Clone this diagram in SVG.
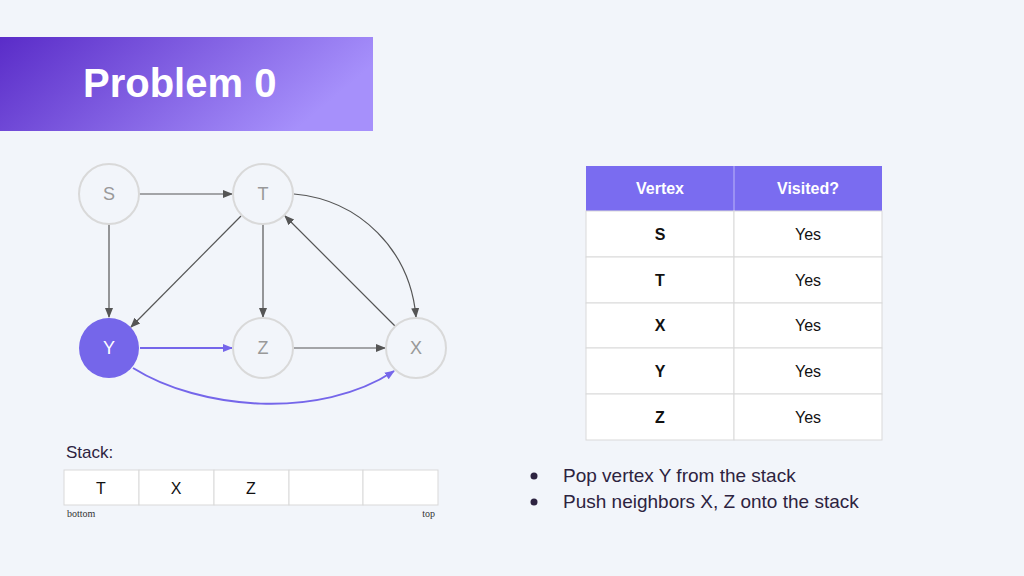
<svg xmlns="http://www.w3.org/2000/svg" width="1024" height="576" viewBox="0 0 1024 576">
<defs>
<linearGradient id="g" x1="0" y1="0" x2="1" y2="0.3"><stop offset="0" stop-color="#5a2cc8"/><stop offset="1" stop-color="#a690fb"/></linearGradient>
<marker id="a" markerWidth="10" markerHeight="10" refX="9" refY="5" orient="auto" markerUnits="userSpaceOnUse"><path d="M0,1 L10,5 L0,9 z" fill="#555"/></marker>
<marker id="p" markerWidth="10" markerHeight="10" refX="9" refY="5" orient="auto" markerUnits="userSpaceOnUse"><path d="M0,1 L10,5 L0,9 z" fill="#7566ea"/></marker>
<style>
.n{fill:#f2f5fa;stroke:#d9d9d9;stroke-width:2}
.nl{font-family:"Liberation Sans",Arial,sans-serif;font-size:18px;fill:#999;text-anchor:middle}
.e{fill:none;stroke:#555;stroke-width:1.2;marker-end:url(#a)}
.ep{fill:none;stroke:#7566ea;stroke-width:2;marker-end:url(#p)}
.t{font-family:"Liberation Sans",Arial,sans-serif;font-size:16px;fill:#111;text-anchor:middle}
.c{fill:#fff;stroke:#d9d9d9;stroke-width:1}
</style>
</defs>
<rect width="1024" height="576" fill="#f2f5fa"/>
<rect x="0" y="37" width="373" height="94" fill="url(#g)"/>
<text x="83" y="97" font-family="Liberation Sans,Arial,sans-serif" font-size="40" font-weight="bold" fill="#fff">Problem 0</text>
<g id="connectors">
<path class="e" d="M139,194 L232,194"/>
<path class="e" d="M109,224 L109,317"/>
<path class="e" d="M241,216 L131,327"/>
<path class="e" d="M263,224 L263,317"/>
<path class="e" d="M294,348 L385,348"/>
<path class="e" d="M395,326 L285,216"/>
<path class="e" d="M294,194 C360,200 410,250 416,317"/>
<path class="ep" d="M140,348 L232,348"/>
<path class="ep" d="M133,368 C200,410 320,420 394,371"/>
</g>
<g id="S"><circle class="n" cx="109" cy="194" r="30"/><text class="nl" x="109" y="200">S</text></g>
<g id="T"><circle class="n" cx="263" cy="194" r="30"/><text class="nl" x="263" y="200">T</text></g>
<g id="Y"><circle cx="109" cy="348" r="30" fill="#7566ea"/><text class="nl" x="109" y="354" style="fill:#fff">Y</text></g>
<g id="Z"><circle class="n" cx="263" cy="348" r="30"/><text class="nl" x="263" y="354">Z</text></g>
<g id="X"><circle class="n" cx="416" cy="348" r="30"/><text class="nl" x="416" y="354">X</text></g>
<g id="table">
<rect x="586" y="166" width="296" height="45" fill="#7a6cf0"/>
<line x1="734" y1="166" x2="734" y2="211" stroke="#fff" stroke-opacity="0.5"/>
<text x="660" y="194" font-family="Liberation Sans,Arial,sans-serif" font-size="16" font-weight="bold" fill="#fff" text-anchor="middle">Vertex</text>
<text x="808" y="194" font-family="Liberation Sans,Arial,sans-serif" font-size="16" font-weight="bold" fill="#fff" text-anchor="middle">Visited?</text>
<rect class="c" x="586" y="211" width="148" height="46"/><rect class="c" x="734" y="211" width="148" height="46"/>
<rect class="c" x="586" y="257" width="148" height="46"/><rect class="c" x="734" y="257" width="148" height="46"/>
<rect class="c" x="586" y="303" width="148" height="45"/><rect class="c" x="734" y="303" width="148" height="45"/>
<rect class="c" x="586" y="348" width="148" height="46"/><rect class="c" x="734" y="348" width="148" height="46"/>
<rect class="c" x="586" y="394" width="148" height="46"/><rect class="c" x="734" y="394" width="148" height="46"/>
<g font-weight="bold"><text class="t" x="660" y="240">S</text><text class="t" x="660" y="286">T</text><text class="t" x="660" y="331">X</text><text class="t" x="660" y="377">Y</text><text class="t" x="660" y="423">Z</text></g>
<text class="t" x="808" y="240">Yes</text><text class="t" x="808" y="286">Yes</text><text class="t" x="808" y="331">Yes</text><text class="t" x="808" y="377">Yes</text><text class="t" x="808" y="423">Yes</text>
</g>
<g id="stack">
<text x="66" y="458" font-family="Liberation Sans,Arial,sans-serif" font-size="17" fill="#2d2340">Stack:</text>
<rect class="c" x="64" y="470" width="75" height="35"/><rect class="c" x="139" y="470" width="75" height="35"/><rect class="c" x="214" y="470" width="75" height="35"/><rect class="c" x="289" y="470" width="74" height="35"/><rect class="c" x="363" y="470" width="75" height="35"/>
<text class="t" x="101" y="494">T</text><text class="t" x="176" y="494">X</text><text class="t" x="251" y="494">Z</text>
<text x="67" y="517" font-family="Liberation Serif,serif" font-size="10" fill="#333">bottom</text>
<text x="435" y="517" font-family="Liberation Serif,serif" font-size="10" fill="#333" text-anchor="end">top</text>
</g>
<g id="bullets" font-family="Liberation Sans,Arial,sans-serif" font-size="19" fill="#2d2340">
<circle cx="534" cy="476" r="3.5" fill="#2d2340"/><text x="563" y="482">Pop vertex Y from the stack</text>
<circle cx="534" cy="502" r="3.5" fill="#2d2340"/><text x="563" y="508">Push neighbors X, Z onto the stack</text>
</g>
</svg>
